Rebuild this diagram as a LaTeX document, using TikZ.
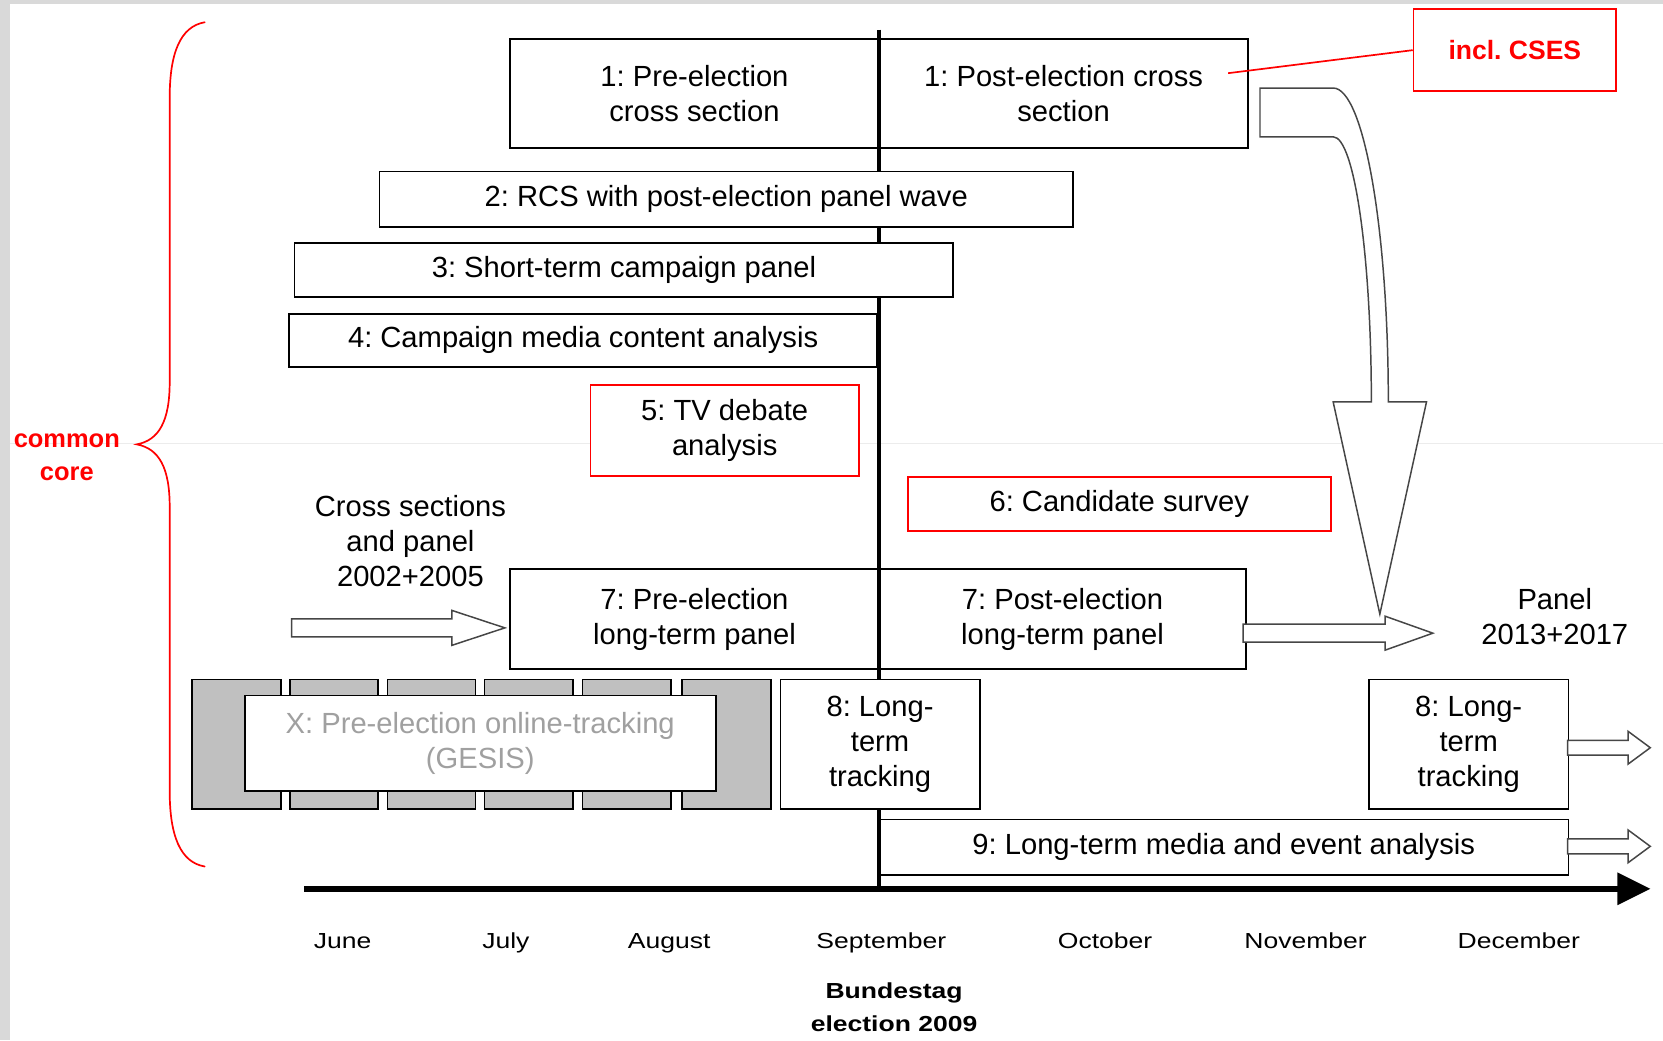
\documentclass[tikz,border=0pt]{standalone}
\usepackage{fontspec}
\setmainfont{Liberation Sans}
\newfontfamily\widefont[FakeStretch=1.22]{Liberation Sans}
\usetikzlibrary{calc}
\definecolor{trkgray}{RGB}{192,192,192}
\definecolor{xgray}{RGB}{160,160,160}
\definecolor{bordgray}{RGB}{217,217,217}
\definecolor{faintgray}{RGB}{236,236,236}
\definecolor{arrgray}{RGB}{70,70,70}
\newcommand\blockarr[5]{\draw[barrow] let \p1=(#1), \p2=(#2) in
  (\x1,{\y1+#3}) -- ({\x2-#5},{\y1+#3}) -- ({\x2-#5},{\y1+#4}) -- (\x2,\y1)
  -- ({\x2-#5},{\y1-#4}) -- ({\x2-#5},{\y1-#3}) -- (\x1,{\y1-#3}) -- cycle;}
\frenchspacing
\begin{document}
\frenchspacing
\begin{tikzpicture}[x=1pt,y=-1pt,
  box/.style={draw=black, line width=1.6pt, fill=white, inner sep=0pt, align=center,
    anchor=north west, font=\fontsize{27.5}{33}\selectfont},
  redbox/.style={box, draw=red},
  trk/.style={draw=black, line width=1.6pt, fill=trkgray, inner sep=0pt,
    anchor=north west, minimum height=122pt},
  plain/.style={align=center, inner sep=0pt, font=\fontsize{27.5}{33}\selectfont},
  month/.style={inner sep=0pt, anchor=base, font=\widefont\fontsize{20.5}{24}\selectfont},
  barrow/.style={draw=arrgray, line width=1.4pt, fill=white, line join=miter},
  redline/.style={draw=red, line width=1.6pt}
]
\useasboundingbox (0,0) rectangle (1568,981);
% frame artefacts
\fill[bordgray] (0,0) rectangle (1568,4);
\fill[bordgray] (0,0) rectangle (9,981);
\draw[faintgray, line width=0.8pt] (9,418.5) -- (1568,418.5);

% brace and label
\draw[redline, line cap=round]
  (193,21) .. controls (170,25) and (160,50) .. (160,92) -- (160,360)
  .. controls (160,397) and (150,415) .. (129,419)
  .. controls (150,423) and (160,441) .. (160,478) -- (160,746)
  .. controls (160,788) and (170,813) .. (193,817);
\node[inner sep=0pt, align=center, text=red, font=\fontsize{24}{31}\selectfont\bfseries]
  (core) at (63,431) {common\\core};

% boxes lying under the election line
\node[box, minimum width=348pt, minimum height=103pt] (pre1) at (480,36) {1: Pre-election\\cross section};
\node[box, minimum width=348pt, minimum height=103pt] (post1) at (828,36) {1: Post-election cross\\section};
\node[box, minimum width=554pt, minimum height=50pt] (cma4) at (272,295) {4: Campaign media content analysis};
\node[box, minimum width=348pt, minimum height=94pt] (pre7) at (480,536) {7: Pre-election\\long-term panel};
\node[box, minimum width=346pt, minimum height=94pt] (post7) at (828,536) {7: Post-election\\long-term panel};
\node[box, minimum width=650pt, minimum height=52pt] (med9) at (828,772) {9: Long-term media and event analysis};

% time axis and election line
\coordinate (axS) at (287,838);
\coordinate (axE) at (1556,838);
\coordinate (elT) at (829,28);
\draw[line width=3.8pt] (elT) -- (elT |- axS);
\draw[line width=5.5pt] (axS) -- ($(axE)+(-30,0)$);
\fill (axE) -- ++(-31,-15.5) -- ++(0,31) -- cycle;

% boxes covering the election line and the others
\node[box, minimum width=654pt, minimum height=52pt] (rcs2) at (357,161) {2: RCS with post-election panel wave};
\node[box, minimum width=621pt, minimum height=51pt] (stc3) at (277,228) {3: Short-term campaign panel};
\node[redbox, minimum width=253pt, minimum height=86pt] (tv5) at (556,362) {5: TV debate\\analysis};
\node[redbox, minimum width=399pt, minimum height=51pt] (cand6) at (855,449) {6: Candidate survey};
\node[box, minimum width=188pt, minimum height=122pt] (lt8a) at (735,640) {8: Long-\\term\\tracking};
\node[box, minimum width=188pt, minimum height=122pt] (lt8b) at (1290,640) {8: Long-\\term\\tracking};

% online tracking (GESIS)
\node[trk, minimum width=84pt] (trk1) at (180,640) {};
\node[trk, minimum width=83pt] (trk2) at (272.5,640) {};
\node[trk, minimum width=83pt] (trk3) at (364.5,640) {};
\node[trk, minimum width=83.5pt] (trk4) at (456,640) {};
\node[trk, minimum width=83.5pt] (trk5) at (548.5,640) {};
\node[trk, minimum width=84pt] (trk6) at (642,640) {};
\node[box, minimum width=444pt, minimum height=90pt, text=xgray] (online) at (230,655)
  {X: Pre-election online-tracking\\(GESIS)};

% CSES note
\node[redbox, minimum width=191pt, minimum height=77pt, text=red,
  font=\fontsize{25}{30}\selectfont\bfseries] (cses) at (1332,8) {incl. CSES};
\coordinate (csesFrom) at (1158,69);
\draw[redline] (csesFrom) -- (cses.west);

% free texts
\node[plain] (cross) at (387,510) {Cross sections\\and panel\\2002+2005};
\node[plain] (panel) at (1466,581.5) {Panel\\2013+2017};

% block arrows
\coordinate (csA) at (275,592);
\coordinate (csB) at (476,592);
\blockarr{csA}{csB}{8.5pt}{16.5pt}{50pt}
\coordinate (pnA) at (1172,597);
\coordinate (pnB) at (1351,597);
\blockarr{pnA}{pnB}{8.5pt}{16pt}{45pt}
\coordinate (ltA) at (1478,705);
\coordinate (ltB) at (1556,705);
\blockarr{ltA}{ltB}{7pt}{15.5pt}{21pt}
\coordinate (mdA) at (1478,798);
\coordinate (mdB) at (1556,798);
\blockarr{mdA}{mdB}{7pt}{15.5pt}{21pt}

% big curved arrow from the post-election cross section down to the panel arrow
\coordinate (bigA) at (1188,83);
\begin{scope}[shift={(bigA)}]
\draw[barrow] (0,0) -- (69,0) .. controls (97.7,0) and (121,132.5) .. (121,296)
  -- (157,296) -- (113,496) -- (69,296) -- (105,296)
  .. controls (105,158) and (88.9,46) .. (69,46) -- (0,46) -- cycle;
\end{scope}

% months
\node[month] (jun) at (323,894) {June};
\node[month] (jul) at (477,894) {July};
\node[month] (aug) at (631,894) {August};
\node[month] (sep) at (831,894) {September};
\node[month] (oct) at (1042,894) {October};
\node[month] (nov) at (1231,894) {November};
\node[month] (dec) at (1432,894) {December};
\node[inner sep=0pt, align=center, font=\widefont\fontsize{20.5}{31}\selectfont\bfseries]
  (elect) at (843,950) {Bundestag\\election 2009};
\end{tikzpicture}
\end{document}
